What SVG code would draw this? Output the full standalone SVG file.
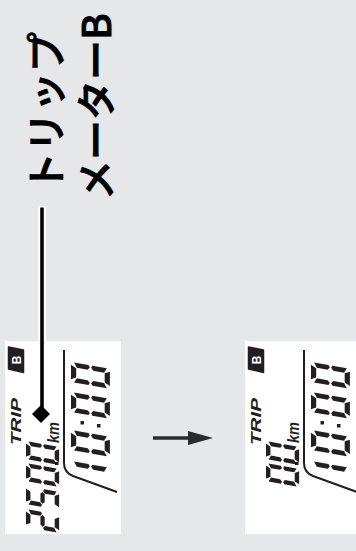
<svg xmlns="http://www.w3.org/2000/svg" xmlns:xlink="http://www.w3.org/1999/xlink" width="356" height="551" viewBox="0 0 356 551">
<style>
.bg{fill:#e6e7e8}
.panel{fill:#ffffff}
.seg{fill:#231f20}
.frame{fill:none;stroke:#231f20;stroke-width:2}
.trip{font-family:"Liberation Sans",Arial,sans-serif;font-weight:bold;font-style:italic;font-size:15px;fill:#231f20}
.km{font-family:"Liberation Sans",Arial,sans-serif;font-weight:bold;font-style:italic;font-size:16px;fill:#231f20}
.badge{fill:#231f20}
.badgeT{font-family:"Liberation Sans",Arial,sans-serif;font-weight:bold;font-size:12px;fill:#ffffff;text-anchor:middle}
.jp{font-family:"Noto Sans CJK JP","Noto Sans CJK SC",sans-serif;font-weight:500;font-size:40px;fill:#000000;stroke:#000000;stroke-width:0.9}
</style>
<defs>
<polygon id="sa" points="2.8,0 17.2,0 14.6,4.8 5.4,4.8"/>
<polygon id="sb" points="20,2.8 20,16.2 17.7,17.4 15.2,15.4 15.2,5.4"/>
<polygon id="sc" points="20,19.8 20,33.2 15.2,30.6 15.2,20.6 17.7,18.6"/>
<polygon id="sd" points="2.8,36 17.2,36 14.6,31.2 5.4,31.2"/>
<polygon id="se" points="0,19.8 0,33.2 4.8,30.6 4.8,20.6 2.3,18.6"/>
<polygon id="sf" points="0,2.8 0,16.2 2.3,17.4 4.8,15.4 4.8,5.4"/>
<polygon id="sg" points="3.4,18 5.6,15.7 14.4,15.7 16.6,18 14.4,20.3 5.6,20.3"/>
<g id="d0" class="seg"><use href="#sa"/><use href="#sb"/><use href="#sc"/><use href="#sd"/><use href="#se"/><use href="#sf"/></g>
<g id="d1" class="seg"><use href="#sb"/><use href="#sc"/></g>
<g id="d2" class="seg"><use href="#sa"/><use href="#sb"/><use href="#sg"/><use href="#se"/><use href="#sd"/></g>
<g id="d5" class="seg"><use href="#sa"/><use href="#sf"/><use href="#sg"/><use href="#sc"/><use href="#sd"/></g>
<g id="badgeB">
<polygon class="badge" points="182,8.5 204,8.5 201,23.5 178.5,23.5" stroke="#231f20" stroke-width="1.5" stroke-linejoin="round"/>
<text class="badgeT" x="191" y="20.5">B</text>
</g>
<g id="clock">
<path class="frame" d="M201,64 L88,64 C80,64 77,68 75,73 L59,117"/>
<use href="#d1" transform="translate(70,71) skewX(-10) scale(1,1.08)"/>
<use href="#d0" transform="translate(101,71) skewX(-10) scale(1,1.08)"/>
<rect class="seg" x="126.5" y="80.5" width="3.5" height="3.5"/>
<rect class="seg" x="123.5" y="97" width="3.5" height="3.5"/>
<use href="#d0" transform="translate(139,71) skewX(-10) scale(1,1.08)"/>
<use href="#d0" transform="translate(169,71) skewX(-10) scale(1,1.08)"/>
</g>
</defs>
<rect class="bg" x="0" y="0" width="356" height="551"/>
<g transform="translate(0,551) rotate(-90)">
<g id="panel-before">
<rect class="panel" x="17" y="5" width="193" height="116"/>
<use href="#badgeB"/>
<text class="trip" x="106" y="21" textLength="47" lengthAdjust="spacingAndGlyphs">TRIP</text>
<use href="#d2" transform="translate(24,26) skewX(-10) scale(0.9,0.92)"/>
<use href="#d5" transform="translate(47,26) skewX(-10) scale(0.9,0.92)"/>
<use href="#d0" transform="translate(70,26) skewX(-10) scale(0.9,0.92)"/>
<rect class="seg" x="86" y="55" width="3.2" height="3.6"/>
<use href="#d0" transform="translate(92,26) skewX(-10) scale(0.9,0.92)"/>
<text class="km" x="108" y="59" textLength="21" lengthAdjust="spacingAndGlyphs">km</text>
<use href="#clock"/>
</g>
<g id="panel-after" transform="translate(0,240)">
<rect class="panel" x="17" y="5" width="193" height="116"/>
<use href="#badgeB"/>
<text class="trip" x="106" y="21" textLength="47" lengthAdjust="spacingAndGlyphs">TRIP</text>
<use href="#d0" transform="translate(70,26) skewX(-10) scale(0.9,0.92)"/>
<rect class="seg" x="86" y="55" width="3.2" height="3.6"/>
<use href="#d0" transform="translate(92,26) skewX(-10) scale(0.9,0.92)"/>
<text class="km" x="108" y="59" textLength="21" lengthAdjust="spacingAndGlyphs">km</text>
<use href="#clock"/>
</g>
<g id="label">
<text class="jp" x="359" y="61">トリップ</text>
<text class="jp" x="351" y="111">メーターB</text>
</g>
</g>
<g id="connectors">
<line x1="42" y1="206" x2="42" y2="406" stroke="#ffffff" stroke-width="8"/>
<line x1="42" y1="207.5" x2="42" y2="408" stroke="#000000" stroke-width="3.6"/>
<polygon points="41,405 50,414 41,423 32,414" fill="#000000"/>
<line x1="153" y1="438" x2="190" y2="438" stroke="#2b2b2b" stroke-width="3.3"/>
<polygon points="188,431 213,438 188,445" fill="#2b2b2b"/>
</g>
</svg>
